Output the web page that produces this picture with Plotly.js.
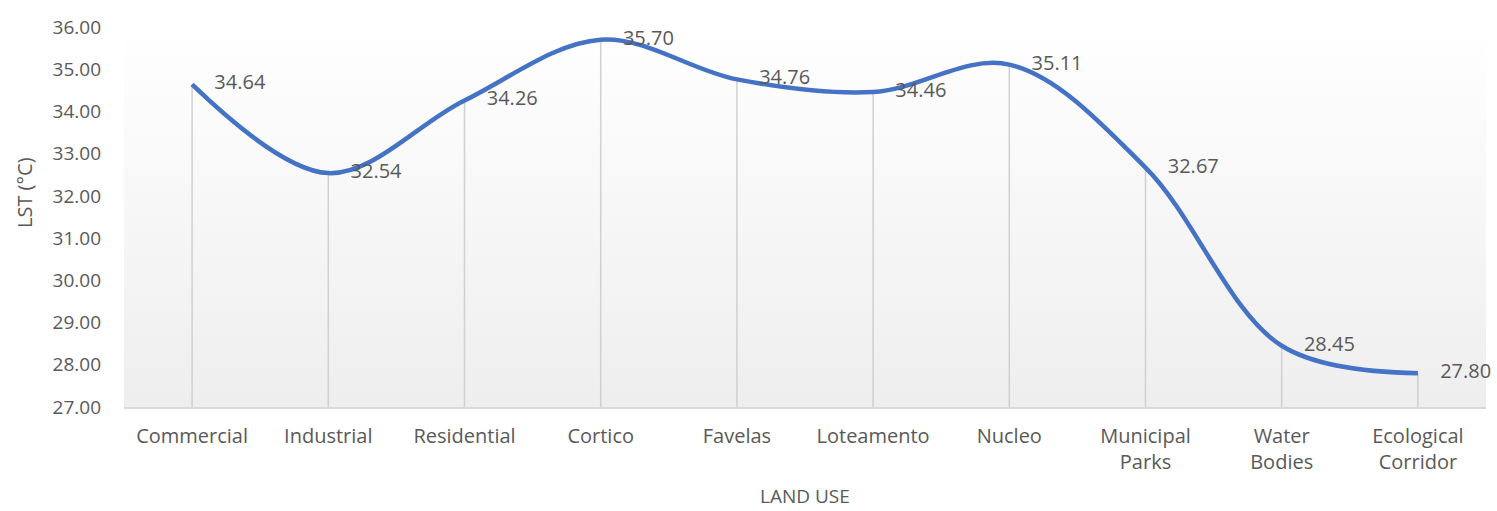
<!DOCTYPE html>
<html>
<head>
<meta charset="utf-8">
<script src="https://cdn.plot.ly/plotly-3.0.1.min.js"></script>
<style>html,body{margin:0;padding:0;background:#fff;}#chart{width:1497px;height:511px;}</style>
</head>
<body>
<div id="chart"></div>
<script>
const categories = ["Commercial", "Industrial", "Residential", "Cortico", "Favelas", "Loteamento", "Nucleo", "Municipal<br>Parks", "Water<br>Bodies", "Ecological<br>Corridor"];
const lstValues = [34.64, 32.54, 34.26, 35.70, 34.76, 34.46, 35.11, 32.67, 28.45, 27.80];
const labelText = lstValues.map(v => v.toFixed(2));
const axisMin = 27;
const axisMax = 36;

const grad = 'data:image/svg+xml;base64,' + btoa('<svg xmlns="http://www.w3.org/2000/svg" width="100" height="100" preserveAspectRatio="none"><defs><linearGradient id="g" x1="0" y1="0" x2="0" y2="1"><stop offset="0" stop-color="#ffffff"/><stop offset="1" stop-color="#eeeeee"/></linearGradient></defs><rect width="100" height="100" fill="url(#g)"/></svg>');

const dropLines = {
  x: categories, y: lstValues, type: 'scatter', mode: 'none',
  error_y: {type: 'data', symmetric: false, array: lstValues.map(() => 0), arrayminus: lstValues.map(v => v - axisMin), width: 0, thickness: 1.5, color: '#d0d0d0'},
  hoverinfo: 'skip', showlegend: false
};
const line = {
  x: categories, y: lstValues, type: 'scatter', mode: 'lines+markers+text',
  line: {shape: 'spline', smoothing: 1, color: '#4472C4', width: 4.5},
  marker: {size: 34, opacity: 0, color: '#4472C4'},
  text: labelText, textposition: 'middle right',
  textfont: {family: 'Open Sans, sans-serif', size: 20, color: '#595959'},
  cliponaxis: false, showlegend: false
};

const layout = {
  width: 1497, height: 511,
  margin: {l: 124, r: 11, t: 27, b: 104},
  paper_bgcolor: '#ffffff', plot_bgcolor: 'rgba(0,0,0,0)',
  font: {family: 'Open Sans, sans-serif', color: '#595959'},
  images: [{source: grad, xref: 'paper', yref: 'paper', x: 0, y: 1, sizex: 1, sizey: 1, sizing: 'stretch', xanchor: 'left', yanchor: 'top', layer: 'below'}],
  xaxis: {
    type: 'category', range: [-0.5, categories.length - 0.5], autorange: false,
    showgrid: false, zeroline: false,
    showline: true, linecolor: '#d9d9d9', linewidth: 2,
    tickfont: {size: 20, color: '#595959'}, ticks: '', ticklabelstandoff: 10
  },
  yaxis: {
    range: [axisMin, axisMax], autorange: false, dtick: 1, tickformat: '.2f', showgrid: false, zeroline: false,
    showline: false, ticks: '', tickfont: {size: 19, color: '#595959'}, ticklabelstandoff: 22
  },
  annotations: [
    {text: 'LST (°C)', textangle: -90, xref: 'paper', yref: 'paper', x: 0, y: (407 - 193) / 380, xshift: -100, xanchor: 'center', yanchor: 'middle', showarrow: false, font: {size: 20, color: '#595959'}},
    {text: 'LAND USE', xref: 'paper', yref: 'paper', x: 0.5, y: 0, yshift: -89, xanchor: 'center', yanchor: 'middle', showarrow: false, font: {size: 19, color: '#595959'}}
  ]
};
Plotly.newPlot('chart', [dropLines, line], layout, {displayModeBar: false, staticPlot: true});
</script>
</body>
</html>
